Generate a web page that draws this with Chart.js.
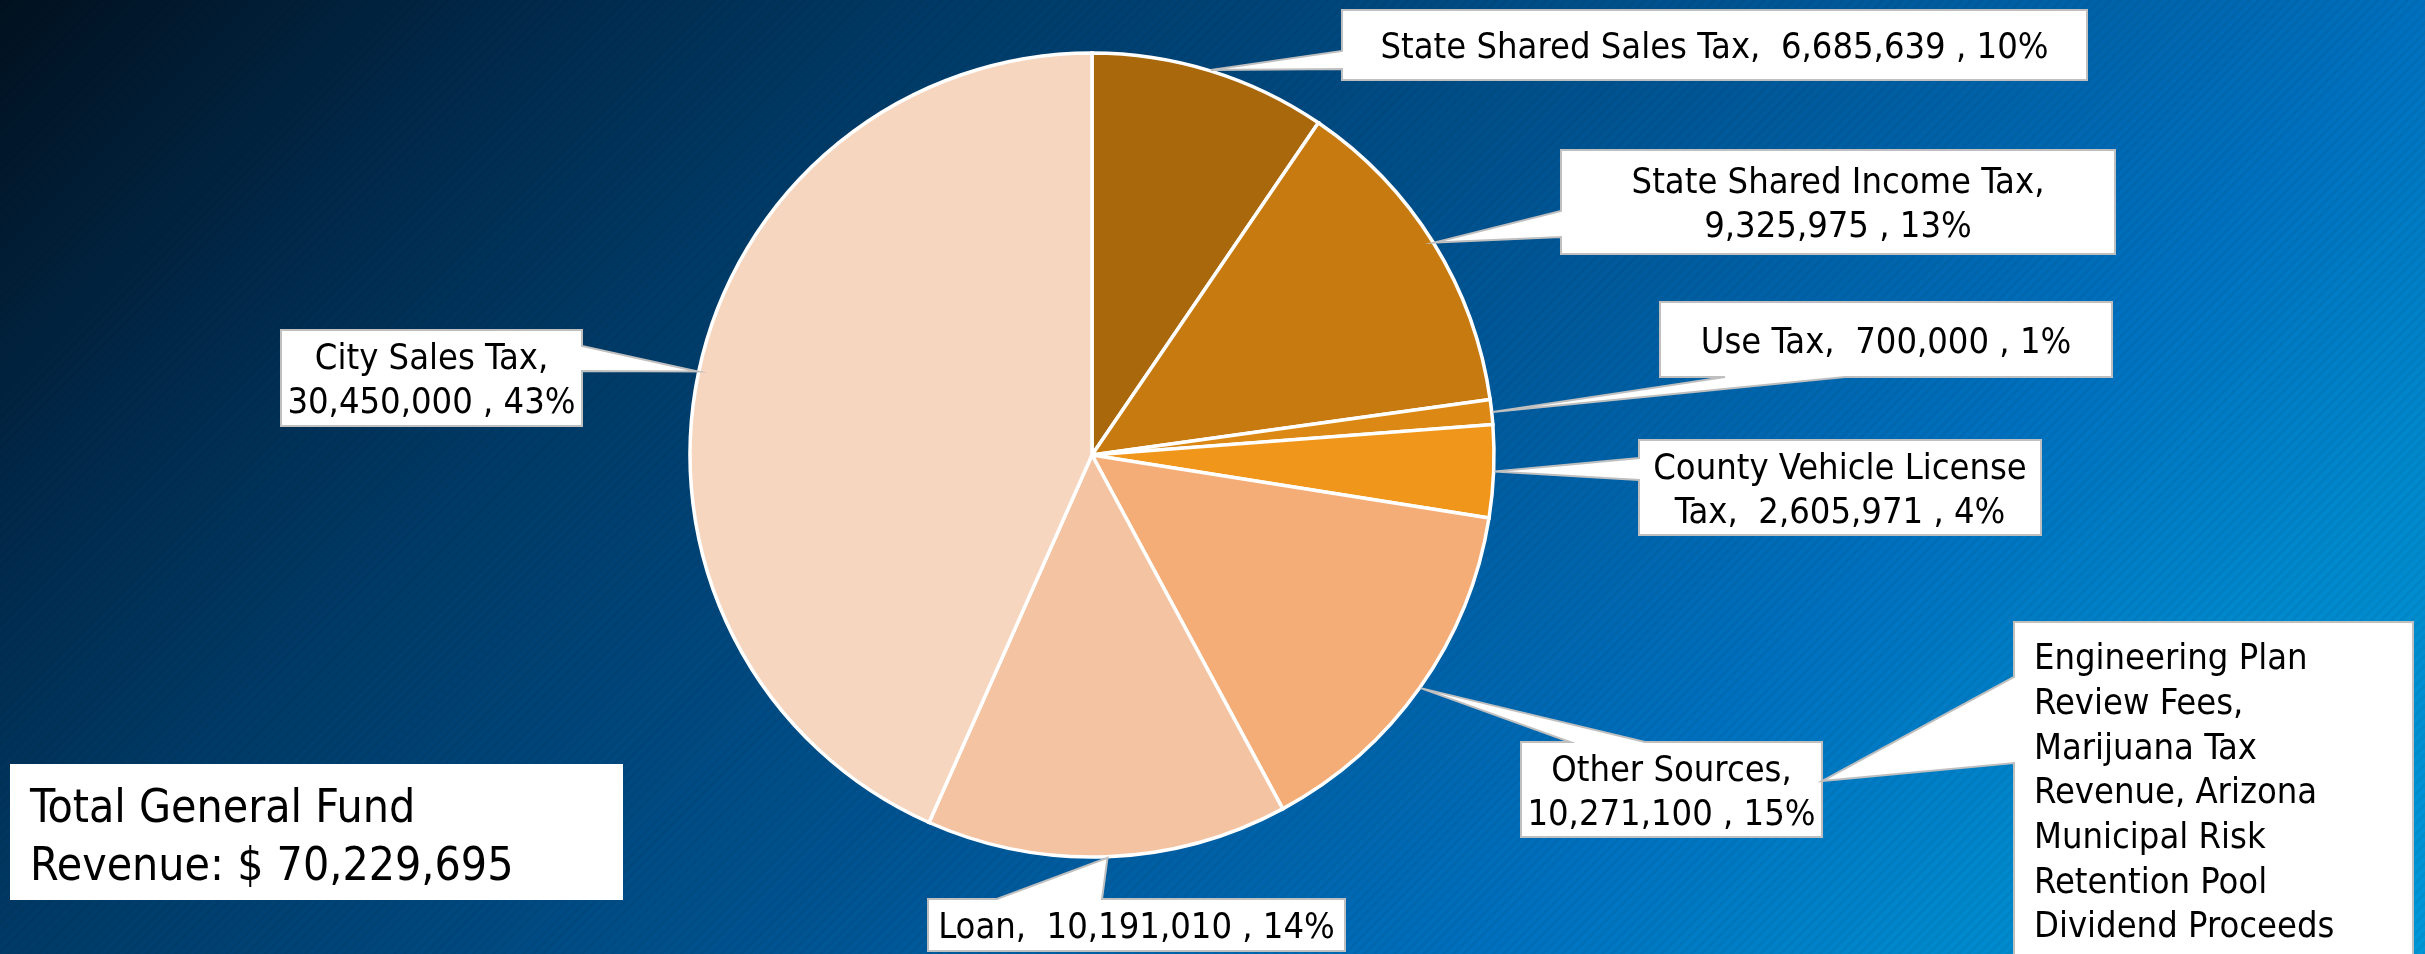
<!DOCTYPE html>
<html>
<head>
<meta charset="utf-8">
<script src="https://cdn.jsdelivr.net/npm/chart.js@4/dist/chart.umd.min.js"></script>
<style>
  html, body { margin: 0; padding: 0; }
  body {
    width: 2425px; height: 954px; overflow: hidden;
    background:
      repeating-linear-gradient(135deg, rgba(0,0,0,0.045) 0px, rgba(0,0,0,0.045) 3px, rgba(0,0,0,0) 3px, rgba(0,0,0,0) 7px),
      linear-gradient(135deg, #01111f 0%, #012849 15%, #003a66 28%, #00528f 50%, #0070be 72%, #0088cc 85%, #0097d8 100%);
  }
  #wrap { position: absolute; left: 0; top: 0; width: 2425px; height: 954px; }
</style>
</head>
<body>
<div id="wrap"><canvas id="c"></canvas></div>
<script>
// ---- data ----
const categories = ['State Shared Sales Tax', 'State Shared Income Tax', 'Use Tax', 'County Vehicle License Tax', 'Other Sources', 'Loan', 'City Sales Tax'];
const values = [6685639, 9325975, 700000, 2605971, 10271100, 10191010, 30450000];
const percentLabels = ['10%', '13%', '1%', '4%', '15%', '14%', '43%'];
const sliceColors = ['#aa680c', '#c67a0f', '#db8814', '#f0961a', '#f4ad77', '#f4c3a1', '#f7d6c0'];
const noteLines = ['Engineering Plan', 'Review Fees,', 'Marijuana Tax', 'Revenue, Arizona', 'Municipal Risk', 'Retention Pool', 'Dividend Proceeds'];
const totalLines = ['Total General Fund', 'Revenue: $ 70,229,695'];

// ---- layout of callouts (pixels) ----
const calloutLayout = [
  { box: [1342, 10, 2087, 80],   edge: 'left',   base: [51, 69],     split: 0 },
  { box: [1561, 150, 2115, 254], edge: 'left',   base: [211, 237],   split: 4 },
  { box: [1660, 302, 2112, 377], edge: 'bottom', base: [1725, 1845], split: 0 },
  { box: [1639, 440, 2041, 535], edge: 'left',   base: [458, 480],   split: 3 },
  { box: [1521, 742, 1822, 837], edge: 'top',    base: [1570, 1645], split: 2 },
  { box: [928, 899, 1345, 951],  edge: 'top',    base: [997, 1102],  split: 0 },
  { box: [281, 330, 582, 426],   edge: 'right',  base: [346, 371],   split: 3 }
];
const noteLayout = { box: [2014, 622, 2413, 970], edge: 'left', base: [677, 763], tip: [1822, 781], x: 2034, y0: 656, lh: 44.7 };
const totalLayout = { box: [10, 764, 623, 900], x: 30, y0: 805, lh: 58 };

const FONT = '"DejaVu Sans Condensed", "DejaVu Sans", sans-serif';
const LABEL_SIZE = 36;
const LINE_H = 44;

function fmt(n) { return n.toLocaleString('en-US'); }

function labelLines(i, split) {
  const nameTokens = (categories[i] + ',').split(' ');
  const tokens = nameTokens.concat([fmt(values[i]), ',', percentLabels[i]]);
  const joinTokens = (arr, offset) => {
    let s = '';
    arr.forEach((t, k) => {
      const idx = offset + k;
      if (k > 0) s += (idx === nameTokens.length) ? '  ' : ' ';
      s += t;
    });
    return s;
  };
  if (!split) return [joinTokens(tokens, 0)];
  return [joinTokens(tokens.slice(0, split), 0), joinTokens(tokens.slice(split), split)];
}

function calloutPath(ctx, box, edge, base, tip) {
  const [x0, y0, x1, y1] = box;
  ctx.beginPath();
  ctx.moveTo(x0, y0);
  if (edge === 'top') { ctx.lineTo(base[0], y0); ctx.lineTo(tip[0], tip[1]); ctx.lineTo(base[1], y0); }
  ctx.lineTo(x1, y0);
  if (edge === 'right') { ctx.lineTo(x1, base[0]); ctx.lineTo(tip[0], tip[1]); ctx.lineTo(x1, base[1]); }
  ctx.lineTo(x1, y1);
  if (edge === 'bottom') { ctx.lineTo(base[1], y1); ctx.lineTo(tip[0], tip[1]); ctx.lineTo(base[0], y1); }
  ctx.lineTo(x0, y1);
  if (edge === 'left') { ctx.lineTo(x0, base[1]); ctx.lineTo(tip[0], tip[1]); ctx.lineTo(x0, base[0]); }
  ctx.closePath();
}

function drawCallout(ctx, box, edge, base, tip) {
  calloutPath(ctx, box, edge, base, tip);
  ctx.fillStyle = '#ffffff';
  ctx.fill();
  ctx.lineWidth = 2;
  ctx.strokeStyle = '#bfbfbf';
  ctx.lineJoin = 'miter';
  ctx.stroke();
}

const calloutPlugin = {
  id: 'callouts',
  afterDatasetsDraw(chart) {
    const ctx = chart.ctx;
    const meta = chart.getDatasetMeta(0);
    ctx.save();
    ctx.textBaseline = 'alphabetic';
    const capOff = 0.3645;
    calloutLayout.forEach((L, i) => {
      const arc = meta.data[i];
      const mid = (arc.startAngle + arc.endAngle) / 2;
      const r = arc.outerRadius + 1;
      const tip = [arc.x + Math.cos(mid) * r, arc.y + Math.sin(mid) * r];
      drawCallout(ctx, L.box, L.edge, L.base, tip);
      const lines = labelLines(i, L.split);
      const cx = (L.box[0] + L.box[2]) / 2;
      const cy = (L.box[1] + L.box[3]) / 2;
      ctx.font = LABEL_SIZE + 'px ' + FONT;
      ctx.fillStyle = '#000000';
      ctx.textAlign = 'center';
      lines.forEach((t, k) => {
        const lc = cy + (k - (lines.length - 1) / 2) * LINE_H;
        ctx.fillText(t, cx, lc + capOff * LABEL_SIZE);
      });
    });
    // note callout pointing at "Other Sources" box
    drawCallout(ctx, noteLayout.box, noteLayout.edge, noteLayout.base, noteLayout.tip);
    ctx.font = LABEL_SIZE + 'px ' + FONT;
    ctx.textAlign = 'left';
    ctx.fillStyle = '#000000';
    noteLines.forEach((t, k) => {
      ctx.fillText(t, noteLayout.x, noteLayout.y0 + k * noteLayout.lh + capOff * LABEL_SIZE);
    });
    // total box
    const tb = totalLayout.box;
    ctx.fillStyle = '#ffffff';
    ctx.fillRect(tb[0], tb[1], tb[2] - tb[0], tb[3] - tb[1]);
    ctx.fillStyle = '#000000';
    const TS = 46;
    ctx.font = TS + 'px ' + FONT;
    totalLines.forEach((t, k) => {
      ctx.fillText(t, totalLayout.x, totalLayout.y0 + k * totalLayout.lh + capOff * TS);
    });
    ctx.restore();
  }
};

new Chart(document.getElementById('c'), {
  type: 'pie',
  data: {
    labels: categories,
    datasets: [{
      data: values,
      backgroundColor: sliceColors,
      borderColor: '#ffffff',
      borderWidth: 3.5,
      borderJoinStyle: 'miter'
    }]
  },
  options: {
    responsive: true,
    maintainAspectRatio: false,
    animation: false,
    radius: 402,
    layout: { padding: { left: 0, right: 241, top: 0, bottom: 44 } },
    plugins: {
      legend: { display: false },
      tooltip: { enabled: false },
      title: { display: false }
    }
  },
  plugins: [calloutPlugin]
});
</script>
</body>
</html>
